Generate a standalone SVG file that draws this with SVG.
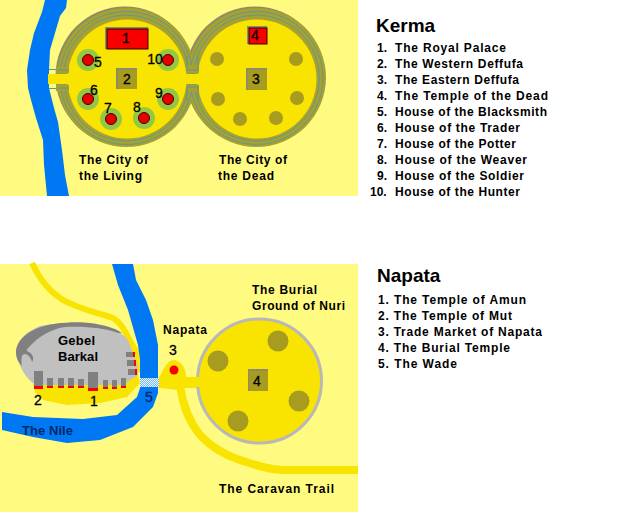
<svg xmlns="http://www.w3.org/2000/svg" width="640" height="512" viewBox="0 0 640 512">
<style>
text{font-family:"Liberation Sans",Arial,sans-serif;font-weight:bold;fill:#000}
.l{font-size:12px}
.n{font-size:14px;font-weight:400;stroke:#000;stroke-width:.3px}
.h{font-size:19px}
.bg{fill:#fffb80}
.river{fill:#0078f4}
.shade{fill:#8c8c68}
.ring{fill:#a8a030}
.bl{fill:none;stroke:#4a98a8;stroke-width:.8}
.in{fill:#f8e400}
.sq{fill:#a89c20}
.sqs{fill:#8c8c68}
.halo{fill:#94c844}
.red{fill:#f80000}
.house{fill:#e80000;stroke:#400000;stroke-width:1}
.dot{fill:#a89c20}
.gb{fill:#808080}
.road{fill:none;stroke:#f8e400;stroke-linejoin:round}
</style>
<defs>
<pattern id="dith" width="2" height="2" patternUnits="userSpaceOnUse"><rect width="2" height="2" fill="#70b8f4"/><rect width="1" height="1" fill="#f0f8fc"/><rect x="1" y="1" width="1" height="1" fill="#f0f8fc"/></pattern>
</defs>
<rect width="640" height="512" fill="#fff"/>
<g id="kerma-map">
<rect class="bg" x="0" y="0" width="358" height="196"/>
<path id="river-kerma" class="river" d="M45 0L67 0L66 8L60 16L55 33L50 50L49 70L49 88L54 108L58 122L62 150L65 175L69 196L47 196L44 165L43 140L36 118L31 100L28 88L27 70L30 50L34 33L42 12Z"/>
<g id="connectors-kerma"><path d="M49 69.5H62M49 88.5H62" stroke="#4a98a8" stroke-width="1" fill="none"/></g>
<g id="walls">
<circle class="shade" cx="125" cy="76" r="69.5"/><circle class="shade" cx="255" cy="76" r="69.5"/>
<circle class="ring" cx="126.5" cy="77.5" r="69.5"/><circle class="ring" cx="256.5" cy="77.5" r="69.5"/>
<circle class="bl" cx="126.5" cy="78" r="66.5"/><circle class="bl" cx="126.5" cy="78" r="63"/>
<circle class="bl" cx="256.5" cy="78" r="66.5"/><circle class="bl" cx="256.5" cy="78" r="63"/>
<circle class="in" cx="127" cy="79" r="59.5"/><circle class="in" cx="257" cy="79" r="59.5"/>
<rect class="in" x="48" y="74" width="24" height="10"/>
<rect class="in" x="182" y="74" width="22" height="10"/>
<path class="ring" d="M56 67H69V73H56ZM56 85H69V91H56ZM186 65H199V73H186ZM186 85H199V92H186Z"/>
<path class="bl" d="M187 56V70H198V56M187 100V87H198V100M58 70H68M58 88H68"/>
</g>
</g>
<g id="node-1"><rect class="sqs" x="105" y="27" width="43" height="22"/><rect class="red" x="107" y="29" width="41" height="20" stroke="#300" stroke-width="1"/><text class="n" x="126" y="43" text-anchor="middle">1</text></g>
<g id="node-2"><rect class="sqs" x="116" y="68" width="21" height="21"/><rect class="sq" x="118" y="70" width="19" height="19"/><text class="n" x="127" y="84" text-anchor="middle">2</text></g>
<g id="node-3"><rect class="sqs" x="246" y="68" width="21" height="22"/><rect class="sq" x="248" y="70" width="19" height="20"/><text class="n" x="256" y="84" text-anchor="middle">3</text></g>
<g id="node-4"><rect class="sqs" x="247" y="26" width="20" height="18"/><rect class="red" x="249" y="28" width="18" height="16" stroke="#300" stroke-width="1"/><text class="n" x="255" y="40" text-anchor="middle">4</text></g>
<g id="node-5"><circle class="halo" cx="88" cy="60" r="11"/><circle class="house" cx="88" cy="60" r="5.5"/><text class="n" x="98" y="67" text-anchor="middle">5</text></g>
<g id="node-6"><circle class="halo" cx="88" cy="99" r="11"/><circle class="house" cx="88" cy="99" r="5.5"/><text class="n" x="94" y="95" text-anchor="middle">6</text></g>
<g id="node-7"><circle class="halo" cx="111" cy="119" r="11"/><circle class="house" cx="111" cy="119" r="5.5"/><text class="n" x="108" y="113" text-anchor="middle">7</text></g>
<g id="node-8"><circle class="halo" cx="144" cy="118" r="11"/><circle class="house" cx="144" cy="118" r="5.5"/><text class="n" x="137" y="112" text-anchor="middle">8</text></g>
<g id="node-9"><circle class="halo" cx="168" cy="99" r="11"/><circle class="house" cx="168" cy="99" r="5.5"/><text class="n" x="159" y="98" text-anchor="middle">9</text></g>
<g id="node-10"><circle class="halo" cx="168" cy="60" r="11"/><circle class="house" cx="168" cy="60" r="5.5"/><text class="n" x="155" y="64" text-anchor="middle">10</text></g>
<g id="dead-dots"><circle class="dot" cx="217" cy="59" r="7"/><circle class="dot" cx="296" cy="59" r="7"/><circle class="dot" cx="218" cy="99" r="7"/><circle class="dot" cx="297" cy="98" r="7"/><circle class="dot" cx="240" cy="119" r="7"/><circle class="dot" cx="276" cy="118" r="7"/></g>
<text class="l" x="79" y="164" textLength="69">The City of</text><text class="l" x="79" y="180" textLength="63">the Living</text>
<text class="l" x="219" y="164" textLength="68">The City of</text><text class="l" x="218" y="180" textLength="56">the Dead</text>
<g id="kerma-legend">
<text class="h" x="376" y="32">Kerma</text>
<text class="l" x="377" y="52">1.</text><text class="l" x="395" y="52" textLength="111">The Royal Palace</text>
<text class="l" x="377" y="68">2.</text><text class="l" x="395" y="68" textLength="128">The Western Deffufa</text>
<text class="l" x="377" y="84">3.</text><text class="l" x="395" y="84" textLength="124">The Eastern Deffufa</text>
<text class="l" x="377" y="100">4.</text><text class="l" x="395" y="100" textLength="153">The Temple of the Dead</text>
<text class="l" x="377" y="116">5.</text><text class="l" x="395" y="116" textLength="152">House of the Blacksmith</text>
<text class="l" x="377" y="132">6.</text><text class="l" x="395" y="132" textLength="125">House of the Trader</text>
<text class="l" x="377" y="148">7.</text><text class="l" x="395" y="148" textLength="121">House of the Potter</text>
<text class="l" x="377" y="164">8.</text><text class="l" x="395" y="164" textLength="132">House of the Weaver</text>
<text class="l" x="377" y="180">9.</text><text class="l" x="395" y="180" textLength="129">House of the Soldier</text>
<text class="l" x="370" y="196">10.</text><text class="l" x="395" y="196" textLength="125">House of the Hunter</text>
</g>
<g id="napata-map">
<rect class="bg" x="0" y="264" width="358" height="248"/>
<path id="top-road" class="road" stroke-width="6" d="M32 263C40 280 48 290 60 298C75 308 95 312 113 318C125 325 133 345 138 372"/>
<path id="yellow-ground" class="in" d="M33 384L132 378L140 370L139 350L128 332L134 360L140 383L127 397L100 403L67 405L43 400L35 392Z"/>
<path id="gebel" fill="#c0c0c0" d="M16 352C17 338 30 330 40 326C60 322 85 322 105 326C118 330 124 335 128 340L137 363L138 375L123 385L80 385L36 385C26 380 18 365 16 352Z"/>
<path id="crest" class="gb" d="M16 353C16 340 28 332 38 328C50 323 75 321 90 323C105 325 115 328 122 333L118 333C105 328 85 326 65 327C50 329 38 338 32 344C28 348 26 350 27 351C32 353 35 358 32 362C31 358 28 354 25 354C21 354 21 360 22 366C18 362 16 358 16 353Z"/>
<path id="nile" class="river" d="M112 264H133L136 280L146 300L153 320L158 345V393L153 407L133 427L100 440L67 443L33 437L2 430L2 412L33 417L83 419L117 415L137 397L140 388V360L138 345L128 310L118 285Z"/>
<rect id="wade" x="140" y="378" width="19" height="9" fill="url(#dith)"/>
<g id="temples" class="gb"><rect x="34" y="371" width="9" height="15"/><rect x="47" y="378" width="6" height="8"/><rect x="58" y="378" width="6" height="8"/><rect x="68" y="378" width="6" height="8"/><rect x="78" y="379" width="6" height="8"/><rect x="88" y="372" width="10" height="17"/><rect x="103" y="380" width="5" height="8"/><rect x="112" y="380" width="5" height="8"/><rect x="121" y="378" width="5" height="8"/><rect x="126" y="352" width="8" height="5"/><rect x="127" y="360" width="7" height="6"/><rect x="128" y="369" width="7" height="6"/></g>
<g id="temple-roofs" class="red"><rect x="34" y="386" width="9" height="3"/><rect x="47" y="386" width="6" height="2"/><rect x="58" y="386" width="6" height="2"/><rect x="68" y="386" width="6" height="2"/><rect x="78" y="386" width="6" height="2"/><rect x="88" y="388" width="10" height="3"/><rect x="103" y="387" width="5" height="2"/><rect x="112" y="387" width="5" height="2"/><rect x="121" y="386" width="5" height="2"/><rect x="133" y="352" width="2" height="5"/><rect x="134" y="360" width="2" height="6"/><rect x="135" y="369" width="2" height="6"/></g>
<path id="town" class="in" d="M159 388L159 377C163 372 165 362 173 360C180 360 186 367 186 377H200V388H182L178 390L160 388Z"/>
<path id="caravan-trail" class="road" stroke-width="8" d="M180 386C183 405 188 420 200 435C210 446 222 454 240 460C255 465 270 470 285 470H358"/>
<circle class="red" cx="174" cy="370" r="4.5"/>
<circle id="nuri" cx="259.5" cy="381" r="62" fill="#f8e400" stroke="#b8b8b8" stroke-width="3"/>
<rect class="in" x="190" y="377" width="12" height="10"/>
</g>
<g id="node-n4"><rect class="sqs" x="248" y="369" width="20" height="22"/><rect class="sq" x="249" y="371" width="19" height="20"/><text class="n" x="257" y="386" text-anchor="middle">4</text></g>
<g id="nuri-dots"><circle class="dot" cx="278" cy="341" r="10.5"/><circle class="dot" cx="218" cy="361" r="10.5"/><circle class="dot" cx="299" cy="401" r="10.5"/><circle class="dot" cx="238" cy="421" r="10.5"/></g>
<g id="napata-labels">
<text class="l" x="58" y="345" style="font-size:13px" textLength="37">Gebel</text><text class="l" x="58" y="361" style="font-size:13px" textLength="40">Barkal</text>
<text class="n" x="34" y="405">2</text><text class="n" x="90" y="406">1</text><text class="n" x="145" y="402" style="fill:#002868;stroke:#002868">5</text><text class="n" x="169" y="355">3</text>
<text class="l" x="22" y="435" style="fill:#002868;font-size:13px" textLength="51">The Nile</text>
<text class="l" x="163" y="334" textLength="44">Napata</text>
<text class="l" x="252" y="294" textLength="65">The Burial</text><text class="l" x="252" y="310" textLength="93">Ground of Nuri</text>
<text class="l" x="219" y="493" textLength="115">The Caravan Trail</text>
</g>
<g id="napata-legend">
<text class="h" x="377" y="282">Napata</text>
<text class="l" x="378" y="304" textLength="148">1. The Temple of Amun</text>
<text class="l" x="378" y="320" textLength="134">2. The Temple of Mut</text>
<text class="l" x="378" y="336" textLength="164">3. Trade Market of Napata</text>
<text class="l" x="378" y="352" textLength="132">4. The Burial Temple</text>
<text class="l" x="378" y="368" textLength="79">5. The Wade</text>
</g>
</svg>
